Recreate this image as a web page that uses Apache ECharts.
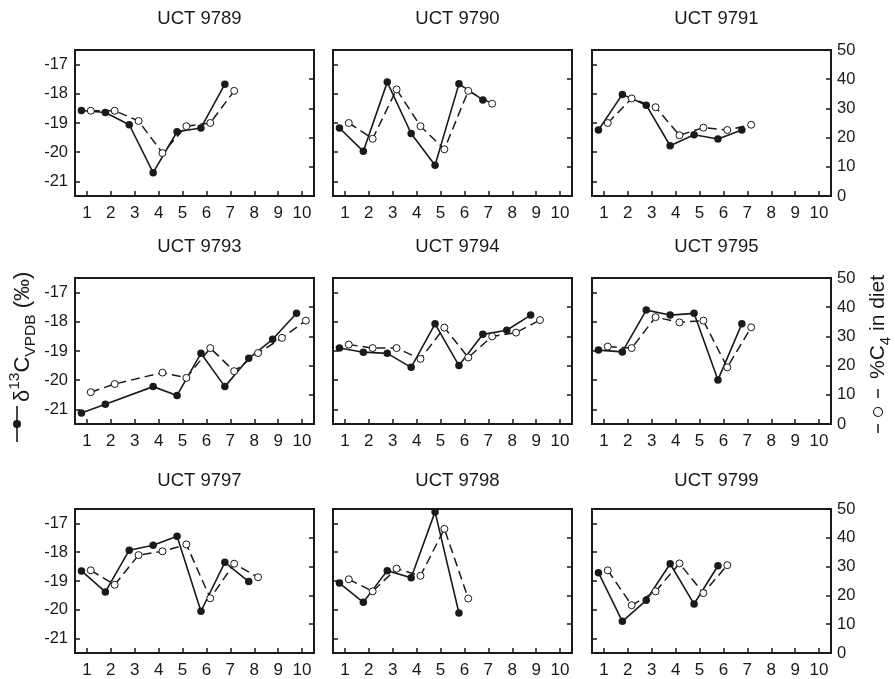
<!DOCTYPE html>
<html>
<head>
<meta charset="utf-8">
<script src="https://cdn.jsdelivr.net/npm/echarts@6/dist/echarts.min.js"></script>
<style>
  html, body { margin: 0; padding: 0; background: #fff; }
  #container { width: 895px; height: 679px; }
</style>
</head>
<body>
<div id="container"></div>
<script>
const panelNames = ["UCT 9789", "UCT 9790", "UCT 9791", "UCT 9793", "UCT 9794", "UCT 9795", "UCT 9797", "UCT 9798", "UCT 9799"];

// sample numbers on the x axis for each panel
const samples = [
  [1, 2, 3, 4, 5, 6, 7],
  [1, 2, 3, 4, 5, 6, 7],
  [1, 2, 3, 4, 5, 6, 7],
  [1, 2, 4, 5, 6, 7, 8, 9, 10],
  [1, 2, 3, 4, 5, 6, 7, 8, 9],
  [1, 2, 3, 4, 5, 6, 7],
  [1, 2, 3, 4, 5, 6, 7, 8],
  [1, 2, 3, 4, 5, 6],
  [1, 2, 3, 4, 5, 6]
];

// delta 13C VPDB (per mil), solid line
const d13C = [
  [-18.57, -18.64, -19.06, -20.70, -19.30, -19.17, -17.67],
  [-19.17, -19.97, -17.60, -19.36, -20.45, -17.66, -18.21],
  [-19.24, -18.02, -18.39, -19.78, -19.40, -19.55, -19.24],
  [-21.12, -20.82, -20.22, -20.52, -19.08, -20.22, -19.25, -18.60, -17.71],
  [-18.90, -19.04, -19.08, -19.56, -18.07, -19.50, -18.43, -18.29, -17.77],
  [-18.97, -19.03, -17.60, -17.77, -17.71, -19.99, -18.07],
  [-18.65, -19.38, -17.93, -17.76, -17.45, -20.05, -18.35, -19.02],
  [-19.07, -19.74, -18.64, -18.89, -16.60, -20.11],
  [-18.71, -20.40, -19.67, -18.40, -19.80, -18.47]
];

// %C4 in diet, dashed line
const pctC4 = [
  [29.2, 29.2, 25.7, 14.7, 23.9, 25.0, 36.0],
  [25.0, 19.6, 36.5, 23.9, 16.0, 36.0, 31.6],
  [25.0, 33.4, 30.4, 20.8, 23.4, 22.6, 24.4],
  [10.9, 13.7, 17.6, 15.8, 26.0, 18.1, 24.3, 29.5, 35.4],
  [27.2, 26.0, 26.0, 22.3, 33.0, 22.8, 30.0, 31.3, 35.6],
  [26.5, 26.0, 36.6, 34.8, 35.4, 19.4, 33.1],
  [28.7, 23.7, 34.0, 35.3, 37.7, 19.0, 31.0, 26.3],
  [25.6, 21.4, 29.3, 26.8, 43.1, 18.9],
  [28.7, 16.6, 21.4, 31.1, 20.8, 30.5]
];

const xTicks = [1, 2, 3, 4, 5, 6, 7, 8, 9, 10];
const d13CTicks = [-21, -20, -19, -18, -17];

const colLeft = [75, 333, 592];
const rowTop = [50, 278, 509];
const gridW = 239;
const gridH = 146;
const titleOffset = [31, 31, 28];

const font = "'Liberation Sans', Arial, sans-serif";
const ink = "#1a1a1a";
const tickStyle = { color: ink, width: 1.5 };

const grid = [], xAxis = [], yAxis = [], series = [], graphic = [];

panelNames.forEach((name, i) => {
  const col = i % 3, row = Math.floor(i / 3);
  grid.push({
    left: colLeft[col], top: rowTop[row], width: gridW, height: gridH,
    show: true, borderColor: ink, borderWidth: 2, backgroundColor: "transparent"
  });
  xAxis.push({
    type: "value", gridIndex: i, min: 0.5, max: 10.5,
    axisLine: { show: false },
    splitLine: { show: false },
    axisTick: { show: true, inside: true, length: 5, customValues: xTicks, lineStyle: tickStyle },
    axisLabel: { show: true, customValues: xTicks, margin: 9, fontSize: 17, color: ink, fontFamily: font }
  });
  yAxis.push({
    type: "value", gridIndex: i, position: "left", min: -21.5, max: -16.5,
    axisLine: { show: false },
    splitLine: { show: false },
    axisTick: { show: true, inside: true, length: 5, customValues: d13CTicks, lineStyle: tickStyle },
    axisLabel: { show: col === 0, customValues: d13CTicks, margin: 7, fontSize: 16.5, color: ink, fontFamily: font }
  });
  yAxis.push({
    type: "value", gridIndex: i, position: "right", min: 0, max: 50, interval: 10,
    axisLine: { show: false },
    splitLine: { show: false },
    axisTick: { show: true, inside: true, length: 5, lineStyle: tickStyle },
    axisLabel: { show: col === 2, margin: 6, fontSize: 16.5, color: ink, fontFamily: font }
  });

  series.push({
    type: "line", xAxisIndex: i, yAxisIndex: 2 * i,
    data: samples[i].map((s, k) => [s - 0.23, d13C[i][k]]),
    symbol: "circle", symbolSize: 7.5,
    lineStyle: { color: ink, width: 1.6 },
    itemStyle: { color: ink },
    animation: false, z: 2
  });
  series.push({
    type: "line", xAxisIndex: i, yAxisIndex: 2 * i + 1,
    data: samples[i].map((s, k) => [s + 0.16, pctC4[i][k]]),
    symbol: "circle", symbolSize: 7,
    lineStyle: { color: ink, width: 1.5, type: [9, 5] },
    itemStyle: { color: "#fff", borderColor: ink, borderWidth: 1 },
    animation: false, z: 3
  });

  graphic.push({
    type: "text",
    x: colLeft[col] + gridW / 2 + 5,
    y: rowTop[row] - titleOffset[row],
    style: { text: name, fontSize: 18.5, fontFamily: font, fill: ink, align: "center", verticalAlign: "middle" }
  });
});

// left axis name with its glyph (solid line, filled dot)
graphic.push({
  type: "group", x: 17, y: 424, rotation: Math.PI / 2,
  children: [
    { type: "line", shape: { x1: -18, y1: 0, x2: 18, y2: 0 }, style: { stroke: ink, lineWidth: 1.6 } },
    { type: "circle", shape: { cx: 0, cy: 0, r: 4 }, style: { fill: ink } },
    {
      type: "text", x: 22, y: 6,
      style: {
        text: "{b|δ}{sup|13}{b|C}{sub|VPDB}{b| (‰)}",
        verticalAlign: "middle", fill: ink, fontFamily: font,
        rich: {
          b: { fontSize: 22, fontFamily: font, fill: ink, lineHeight: 32, verticalAlign: "middle" },
          sup: { fontSize: 15.5, fontFamily: font, fill: ink, lineHeight: 32, verticalAlign: "top" },
          sub: { fontSize: 15.5, fontFamily: font, fill: ink, lineHeight: 32, verticalAlign: "bottom" }
        }
      }
    }
  ]
});

// right axis name with its glyph (dash, open circle, dash)
graphic.push({
  type: "group", x: 878, y: 433, rotation: Math.PI / 2,
  children: [
    { type: "line", shape: { x1: 0, y1: 0, x2: 9, y2: 0 }, style: { stroke: ink, lineWidth: 1.5 } },
    { type: "circle", shape: { cx: 21, cy: 0, r: 4.5 }, style: { fill: "#fff", stroke: ink, lineWidth: 1.1 } },
    { type: "line", shape: { x1: 35, y1: 0, x2: 44, y2: 0 }, style: { stroke: ink, lineWidth: 1.5 } },
    {
      type: "text", x: 54, y: 0,
      style: {
        text: "{b|%C}{sub|4}{b| in diet}",
        verticalAlign: "middle", fill: ink, fontFamily: font,
        rich: {
          b: { fontSize: 21, fontFamily: font, fill: ink, lineHeight: 30, verticalAlign: "middle" },
          sub: { fontSize: 15, fontFamily: font, fill: ink, lineHeight: 30, verticalAlign: "bottom" }
        }
      }
    }
  ]
});

const chart = echarts.init(document.getElementById("container"), null, { renderer: "canvas" });
chart.setOption({
  animation: false,
  backgroundColor: "#fff",
  grid: grid,
  xAxis: xAxis,
  yAxis: yAxis,
  series: series,
  graphic: graphic
});
</script>
</body>
</html>
